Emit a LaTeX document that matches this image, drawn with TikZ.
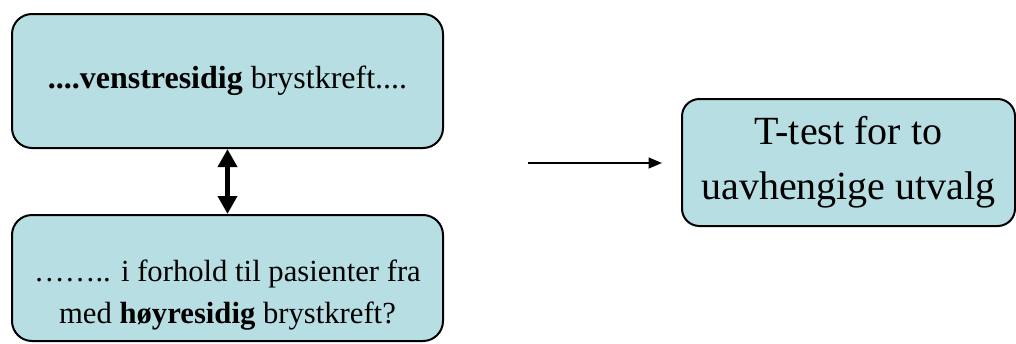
\documentclass[tikz,border=0pt]{standalone}
\usepackage{fontspec}
\setmainfont{Liberation Serif}
\usetikzlibrary{arrows.meta,positioning}
\definecolor{boksblaa}{RGB}{183,222,226}
\tikzset{
  boks/.style={draw,line width=1.5pt,fill=boksblaa,rounded corners=15pt,
    inner sep=0pt,align=center},
}

\begin{document}
\begin{tikzpicture}[x=0.75pt,y=-0.75pt]
 \useasboundingbox (0,0) rectangle (1016,343);
 % the two sides being compared
 \node[boks,minimum width=431*0.75pt,minimum height=134*0.75pt,font=\fontsize{24}{31.5}\selectfont]
   (venstre) at (227.5,81) {\textbf{....venstresidig} brystkreft....};
 \node[boks,minimum width=431*0.75pt,minimum height=126*0.75pt]
   (hoyre) at (227.5,278) {};
 \node[align=center,font=\fontsize{23}{31.5}\selectfont] (hoyretekst) at (227.5,295)
   {…….. i forhold til pasienter fra\\med \textbf{høyresidig} brystkreft?};
 \draw[line width=3.75pt,{Triangle[length=13.5pt,width=14pt]}-{Triangle[length=13.5pt,width=14pt]}]
   (venstre.south)--(hoyre.north);
 % resulting test
 \node[boks,rounded corners=13pt,minimum width=333*0.75pt,minimum height=127*0.75pt,
   font=\fontsize{30}{41}\selectfont] (ttest) at (848.5,162.5)
   {T-test for to\\uavhengige utvalg};
 \coordinate (pilstart) at (528,163);
 \draw[line width=1.5pt,-{Triangle[length=10pt,width=8pt]},shorten >=19*0.75pt]
   (pilstart)--(pilstart-|ttest.west);
\end{tikzpicture}
\end{document}
